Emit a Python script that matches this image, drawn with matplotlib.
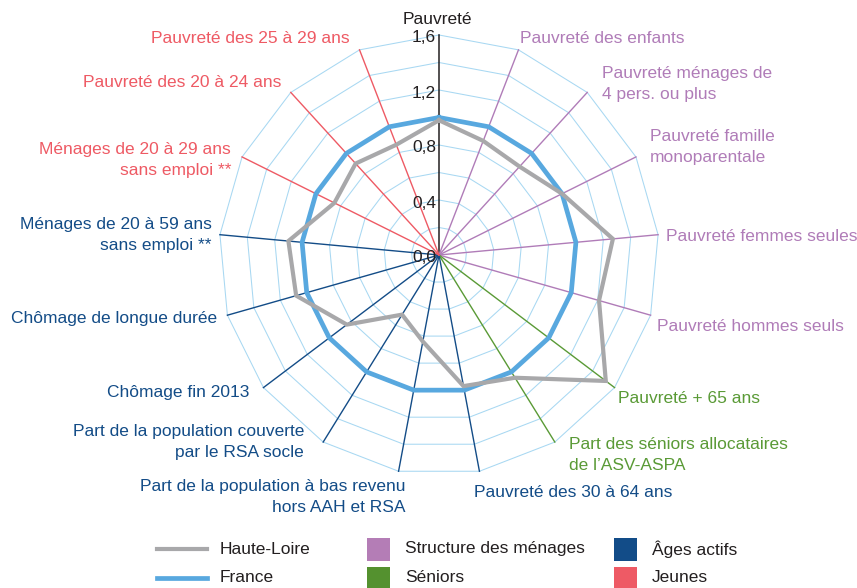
import numpy as np
import matplotlib
matplotlib.use("Agg")
import matplotlib.pyplot as plt
from matplotlib import font_manager as fm
from matplotlib.patches import Rectangle
from matplotlib.lines import Line2D

# ---------------- data ----------------
labels = [
    "Pauvreté",
    "Pauvreté des enfants",
    "Pauvreté ménages de\n4 pers. ou plus",
    "Pauvreté famille\nmonoparentale",
    "Pauvreté femmes seules",
    "Pauvreté hommes seuls",
    "Pauvreté + 65 ans",
    "Part des séniors allocataires\nde l\u2019ASV-ASPA",
    "Pauvreté des 30 à 64 ans",
    "Part de la population à bas revenu\nhors AAH et RSA",
    "Part de la population couverte\npar le RSA socle",
    "Chômage fin 2013",
    "Chômage de longue durée",
    "Ménages de 20 à 59 ans\nsans emploi **",
    "Ménages de 20 à 29 ans\nsans emploi **",
    "Pauvreté des 20 à 24 ans",
    "Pauvreté des 25 à 29 ans",
]
groups = ["Général", "Structure", "Structure", "Structure", "Structure", "Structure",
          "Séniors", "Séniors", "Actifs", "Actifs", "Actifs", "Actifs", "Actifs", "Actifs",
          "Jeunes", "Jeunes", "Jeunes"]
haute_loire = [0.98, 0.89, 0.87, 1.00, 1.27, 1.21, 1.52, 1.05, 0.97, 0.64, 0.51,
               0.84, 1.08, 1.10, 0.85, 0.90, 0.86]
france = [1.0] * 17
ticks = [0.0, 0.4, 0.8, 1.2, 1.6]
tick_labels = ["0,0", "0,4", "0,8", "1,2", "1,6"]
legend_series = ["Haute-Loire", "France"]
legend_groups = ["Structure des ménages", "Séniors", "Âges actifs", "Jeunes"]

# ---------------- style ----------------
names = {f.name for f in fm.fontManager.ttflist}
if "Liberation Sans Narrow" in names:
    FAM, FS = "Liberation Sans Narrow", 14.2
else:
    FAM, FS = "Liberation Sans", 12.5
plt.rcParams["font.family"] = [FAM, "DejaVu Sans"]

col = {"Général": "#231f20", "Structure": "#b07cb8", "Séniors": "#5a9a36",
       "Actifs": "#134c87", "Jeunes": "#ee5a64"}
sq_col = {"Structure des ménages": "#b47db6", "Séniors": "#54912f",
          "Âges actifs": "#124c88", "Jeunes": "#ee5a65"}
GRID = "#a8d8f2"
GREY = "#a8a8aa"
BLUE = "#58a8df"
TXT = "#231f20"

W, H = 857, 588
fig = plt.figure(figsize=(W / 100, H / 100), dpi=100)
cx, cy, R = 439, 255, 220
ax = fig.add_axes([(cx - R) / W, (H - cy - R) / H, 2 * R / W, 2 * R / H], projection="polar")
ax.set_theta_zero_location("N")
ax.set_theta_direction(-1)
ax.set_ylim(0, 1.6)
ax.axis("off")

n = len(labels)
theta = np.arange(n) * 2 * np.pi / n
theta_c = np.append(theta, theta[0])

# rings
for r in np.arange(0.2, 1.61, 0.2):
    ax.plot(theta_c, [r] * (n + 1), color=GRID, lw=0.75, clip_on=False, zorder=1)
# spokes
for t, g in zip(theta, groups):
    ax.plot([t, t], [0, 1.6], color=col[g], lw=1.0 if g != "Général" else 1.1,
            clip_on=False, zorder=2)

# series
ax.plot(theta_c, france + [france[0]], color=BLUE, lw=3.4, clip_on=False, zorder=4,
        solid_joinstyle="miter")
ax.plot(theta_c, haute_loire + [haute_loire[0]], color=GREY, lw=3.0, clip_on=False,
        zorder=5, solid_joinstyle="miter")

# tick labels
for v, s in zip(ticks, tick_labels):
    ax.annotate(s, xy=(0, v), xytext=(-3, -3), textcoords="offset pixels",
                ha="right", va="center", fontsize=FS, color=TXT, zorder=6)

# axis labels: (dx, dy, ha)
offs = [(-2, 15, "center"), (2, 11, "left"), (15, 8, "left"), (14, 10, "left"),
        (8, -2, "left"), (6, -11, "left"), (3, -11, "left"), (14, -13, "left"),
        (-5, -21, "left"), (7, -26, "right"), (-19, 0, "right"), (-14, -5, "right"),
        (-10, -3, "right"), (-8, 0, "right"), (-11, -3, "right"), (-9, 10, "right"),
        (-10, 11, "right")]
for t, lab, g, (dx, dy, ha) in zip(theta, labels, groups, offs):
    ax.annotate(lab, xy=(t, 1.6), xytext=(dx, dy), textcoords="offset pixels",
                ha=ha, va="center", multialignment=ha if ha != "center" else "center",
                fontsize=FS, color=col[g], linespacing=1.5, annotation_clip=False)

# legend (pixel layout)
lax = fig.add_axes([0, 0, 1, 1])
lax.set_xlim(0, W)
lax.set_ylim(H, 0)
lax.axis("off")
rows = [549, 578]
for (name, c, lw), y in zip([(legend_series[0], GREY, 3.0), (legend_series[1], BLUE, 3.4)], rows):
    lax.add_line(Line2D([157, 207], [y, y], color=c, lw=lw))
    lax.text(220, y, name, ha="left", va="center", fontsize=FS, color=TXT)
pos = [(367, rows[0]), (367, rows[1]), (614, rows[0]), (614, rows[1])]
for name, (x, y) in zip(legend_groups, pos):
    lax.add_patch(Rectangle((x, y - 11.5), 23, 23, color=sq_col[name], lw=0))
    lax.text(x + 38, y, name, ha="left", va="center", fontsize=FS, color=TXT)

fig.savefig("out.png", dpi=100)
